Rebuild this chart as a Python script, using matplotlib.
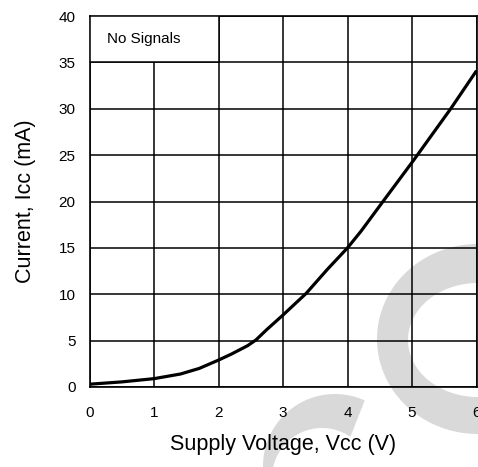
import numpy as np
import matplotlib.pyplot as plt
from matplotlib.patches import Rectangle, Polygon

# supply voltage (V) vs supply current (mA)
vcc = [0, 0.5, 1, 1.41, 1.7, 2, 2.2, 2.45, 2.58, 2.75, 3, 3.36, 3.69, 4,
       4.21, 4.55, 5.02, 5.6, 6]
icc = [0.3, 0.55, 0.9, 1.4, 2.0, 2.9, 3.55, 4.45, 5.07, 6.2, 7.76, 10.1, 12.7, 15,
       16.8, 20, 24.4, 30, 34.1]

x_ticks = [0, 1, 2, 3, 4, 5, 6]
y_ticks = [0, 5, 10, 15, 20, 25, 30, 35, 40]

plt.rcParams['font.family'] = ['Liberation Sans', 'DejaVu Sans']

W, H = 478, 467
fig = plt.figure(figsize=(W / 100, H / 100), dpi=100)
fig.patch.set_facecolor('white')


def ring(co, ro, ci, ri, to, ti):
    # crescent made of an outer and an inner elliptical arc (pixel coords)
    a = np.radians(np.linspace(to[0], to[1], 120))
    b = np.radians(np.linspace(ti[0], ti[1], 120))
    outer = np.column_stack([co[0] + ro[0] * np.cos(a), co[1] + ro[1] * np.sin(a)])
    inner = np.column_stack([ci[0] + ri[0] * np.cos(b), ci[1] + ri[1] * np.sin(b)])
    return np.vstack([outer, inner])


# faint watermark behind the chart
bg = fig.add_axes([0, 0, 1, 1], zorder=0)
bg.set_xlim(0, W)
bg.set_ylim(H, 0)
bg.axis('off')
wm = '#d9d9d9'
bg.add_patch(Polygon(ring((478, 339), (101, 95), (478, 340), (70, 57), (60, 300), (300, 60)),
                     closed=True, fc=wm, ec='none'))
bg.add_patch(Polygon(ring((335, 466), (72, 72), (322, 478), (50, 50), (294.4, 150), (150, 304.6)),
                     closed=True, fc=wm, ec='none'))

ax = fig.add_axes([89.5 / W, 80 / H, 387 / W, 371 / H], zorder=1)
ax.patch.set_alpha(0)

ax.plot(vcc, icc, color='black', lw=2.3, zorder=4, solid_capstyle='butt',
        solid_joinstyle='round')

ax.set_xlim(0, 6)
ax.set_ylim(0, 40)
ax.set_xticks(x_ticks)
ax.set_yticks(y_ticks)
ax.grid(True, color='black', lw=1.1, zorder=1)
ax.set_axisbelow(True)
ax.tick_params(length=0, labelsize=11)
ax.tick_params(axis='x', pad=14)
ax.tick_params(axis='y', pad=10)
for s in ax.spines.values():
    s.set_linewidth(1.2)

# "No Signals" box masks the grid in the top-left corner
ax.add_patch(Rectangle((0, 35), 2, 5, fc='white', ec='black', lw=1.1, zorder=3))
ax.text(0.27, 37.5, 'No Signals', fontsize=11, va='center', ha='left', zorder=5)

ax.set_xlabel('Supply Voltage, Vcc (V)', fontsize=15.5, labelpad=10)
ax.set_ylabel('Current, Icc (mA)', fontsize=15.5, labelpad=16)

fig.savefig('out.png', dpi=100, facecolor='white')
